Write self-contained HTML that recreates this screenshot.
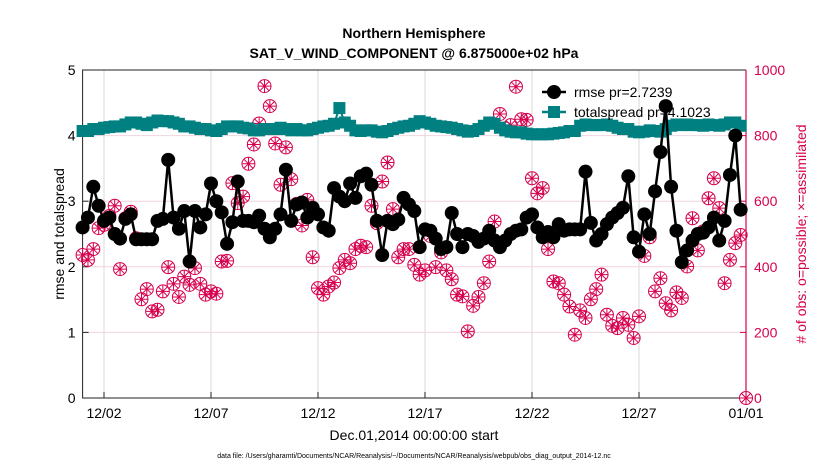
<!DOCTYPE html>
<html><head><meta charset="utf-8">
<style>
html,body{margin:0;padding:0;background:#fff;}
svg{display:block;font-family:"Liberation Sans",Arial,sans-serif;}
</style></head>
<body>
<svg id="chart" width="830" height="470" viewBox="0 0 830 470">
<rect x="0" y="0" width="830" height="470" fill="#fff"/>
<text x="414" y="38" text-anchor="middle" font-size="14" font-weight="bold">Northern Hemisphere</text>
<text x="414" y="58" text-anchor="middle" font-size="14" font-weight="bold">SAT_V_WIND_COMPONENT @ 6.875000e+02 hPa</text>
<g id="grid"></g>
<g id="axes"></g>
<g id="series"></g>
<text x="414" y="440" text-anchor="middle" font-size="14">Dec.01,2014 00:00:00 start</text>
<text x="414" y="458" text-anchor="middle" font-size="7">data file: /Users/gharamti/Documents/NCAR/Reanalysis/~/Documents/NCAR/Reanalysis/webpub/obs_diag_output_2014-12.nc</text>
<text transform="translate(64,234) rotate(-90)" text-anchor="middle" font-size="14">rmse and totalspread</text>
<text transform="translate(806,234) rotate(-90)" text-anchor="middle" font-size="14" fill="#d6004e"># of obs: o=possible; ×=assimilated</text>
<g id="legend"></g>
</svg>
<script>
const rmse = [2.6,2.75,3.22,2.93,2.7,2.75,2.5,2.43,2.73,2.8,2.42,2.42,2.42,2.42,2.7,2.73,3.63,2.75,2.58,2.85,2.08,2.85,2.6,2.8,3.27,3.0,2.83,2.35,2.68,3.3,2.7,2.7,2.68,2.78,2.58,2.45,2.58,2.8,3.48,2.7,2.95,2.98,
2.75,2.9,2.8,2.6,2.55,3.2,3.07,3.0,3.27,3.05,3.38,3.42,3.25,2.7,2.18,2.7,2.65,2.72,3.05,2.95,2.85,2.3,2.57,2.55,2.43,2.27,2.3,2.82,2.5,2.3,2.5,2.47,2.38,2.43,2.55,2.4,2.3,2.4,2.5,2.55,2.57,
2.75,2.8,2.6,2.45,2.53,2.45,2.65,2.55,2.57,2.57,2.57,3.45,2.67,2.4,2.5,2.65,2.75,2.82,2.9,3.38,2.45,2.23,2.8,2.5,3.15,3.75,4.45,3.22,2.55,2.07,2.25,2.4,2.5,2.52,2.6,2.75,2.4,2.7,3.4,4.0,2.87];
const spread = [4.07,4.07,4.1,4.1,4.12,4.13,4.14,4.14,4.17,4.2,4.2,
4.18,4.16,4.2,4.23,4.22,4.22,4.2,4.18,4.14,4.14,
4.12,4.1,4.1,4.08,4.07,4.1,4.14,4.14,4.14,4.12,
4.11,4.08,4.08,4.1,4.1,4.1,4.12,4.1,4.08,4.1,4.08,
4.08,4.1,4.12,4.14,4.15,4.18,4.42,4.2,4.15,4.08,4.07,4.08,4.08,4.06,
4.05,4.07,4.1,4.12,4.14,4.15,4.18,4.22,4.2,4.18,4.15,4.14,4.13,4.12,4.1,
4.08,4.06,4.07,4.1,4.15,4.2,4.18,4.12,4.08,4.06,4.05,4.05,
4.03,4.02,4.02,4.02,4.02,4.03,4.04,4.05,4.07,4.07,4.15,4.17,4.16,
4.16,4.16,4.17,4.15,4.12,4.1,4.1,4.06,4.05,4.06,4.08,4.07,4.06,4.1,4.15,
4.17,4.16,4.17,4.16,4.16,4.15,4.17,4.16,4.15,4.17,4.2,4.2,4.15];
const nobs = [436,421,454,518,528,555,586,393,548,568,487,301,332,264,269,325,399,348,308,370,345,396,348,315,325,318,416,418,655,594,614,714,773,837,951,890,776,650,764,667,592,526,
604,429,335,315,340,352,396,421,411,454,464,460,586,533,660,718,576,429,454,454,406,376,389,494,399,444,389,362,315,310,203,281,308,350,416,538,866,822,832,949,850,
848,670,624,640,454,355,350,315,279,193,267,244,301,332,376,254,220,213,244,223,183,249,433,490,325,365,289,267,322,305,401,548,450,508,609,670,579,350,421,472,497,0];
const xTickDays = [1,6,11,16,21,26,31];
const xTickLabels = ["12/02","12/07","12/12","12/17","12/22","12/27","01/01"];
const yTicks = [0,1,2,3,4,5];
const y2Ticks = [0,200,400,600,800,1000];

const NS="http://www.w3.org/2000/svg";
const L=82.6,R=746,T=70,B=398;
const xs=d=>L+(R-L)*d/31;
const ys=v=>B-(B-T)*v/5;
const y2s=v=>B-(B-T)*v/1000;
function mk(tag,attrs,parent){const e=document.createElementNS(NS,tag);for(const k in attrs)e.setAttribute(k,attrs[k]);parent.appendChild(e);return e;}
const grid=document.getElementById('grid'),axes=document.getElementById('axes'),series=document.getElementById('series'),legend=document.getElementById('legend');

xTickDays.forEach((d,i)=>{
  const g=mk('line',{x1:xs(d),x2:xs(d),y1:T,y2:B,stroke:'#d8d8d8','stroke-width':1},grid);
  
  
  const t=mk('line',{x1:xs(d),x2:xs(d),y1:B,y2:B-6,stroke:'#222','stroke-width':1},axes);
  
  
  const lb=mk('text',{x:xs(d),y:B+20,'text-anchor':'middle','font-size':14},axes);
  lb.textContent=xTickLabels[i];
  
  
});
y2Ticks.forEach(v=>{
  if(v>0&&v<1000){const g=mk('line',{x1:L,x2:R,y1:y2s(v),y2:y2s(v),stroke:'#f0d4de','stroke-width':1},grid);
  
  }
  const t=mk('line',{x1:R,x2:R-6,y1:y2s(v),y2:y2s(v),stroke:'#d6004e','stroke-width':1},axes);
  
  
  const lb=mk('text',{x:R+8,y:y2s(v)+5,'font-size':14,fill:'#d6004e'},axes);
  lb.textContent=v;
  
  
});
yTicks.forEach(v=>{
  const t=mk('line',{x1:L,x2:L+6,y1:ys(v),y2:ys(v),stroke:'#222','stroke-width':1},axes);
  
  
  const lb=mk('text',{x:L-7,y:ys(v)+5,'text-anchor':'end','font-size':14},axes);
  lb.textContent=v;
  
  
});
const ax=mk('path',{d:`M${R},${T}H${L}V${B}H${R}`,fill:'none',stroke:'#222','stroke-width':1},axes);


const ax2=mk('line',{x1:R,x2:R,y1:T,y2:B,stroke:'#d6004e','stroke-width':1.2},axes);



nobs.forEach((v,i)=>{
  const x=xs(i/4),y=y2s(v);
  const g=mk('g',{stroke:'#d6004e',fill:'none','stroke-width':1},series);
  
  
  mk('circle',{cx:x,cy:y,r:6.5},g);
  mk('path',{d:`M${x-6.5},${y}H${x+6.5}M${x},${y-6.5}V${y+6.5}M${x-4.6},${y-4.6}L${x+4.6},${y+4.6}M${x-4.6},${y+4.6}L${x+4.6},${y-4.6}`},g);
});
const sp=mk('polyline',{points:spread.map((v,i)=>xs(i/4)+','+ys(v)).join(' '),fill:'none',stroke:'#008080','stroke-width':2},series);


spread.forEach((v,i)=>{
  const r=mk('rect',{x:xs(i/4)-6,y:ys(v)-6,width:12,height:12,fill:'#008080'},series);
  
  
});
const rl=mk('polyline',{points:rmse.map((v,i)=>xs(i/4)+','+ys(v)).join(' '),fill:'none',stroke:'#000','stroke-width':2.5},series);


rmse.forEach((v,i)=>{
  const c=mk('circle',{cx:xs(i/4),cy:ys(v),r:7,fill:'#000'},series);
  
  
});
const le1=mk('g',{},legend);


mk('line',{x1:542,x2:566,y1:92,y2:92,stroke:'#000','stroke-width':2.5},le1);
mk('circle',{cx:554,cy:92,r:7,fill:'#000'},le1);
const t1=mk('text',{x:574,y:97,'font-size':14},le1);t1.textContent='rmse pr=2.7239';
const le2=mk('g',{},legend);


mk('line',{x1:542,x2:566,y1:112,y2:112,stroke:'#008080','stroke-width':2.5},le2);
mk('rect',{x:548,y:106,width:12,height:12,fill:'#008080'},le2);
const t2=mk('text',{x:574,y:117,'font-size':14},le2);t2.textContent='totalspread pr=4.1023';
</script>
</body></html>
